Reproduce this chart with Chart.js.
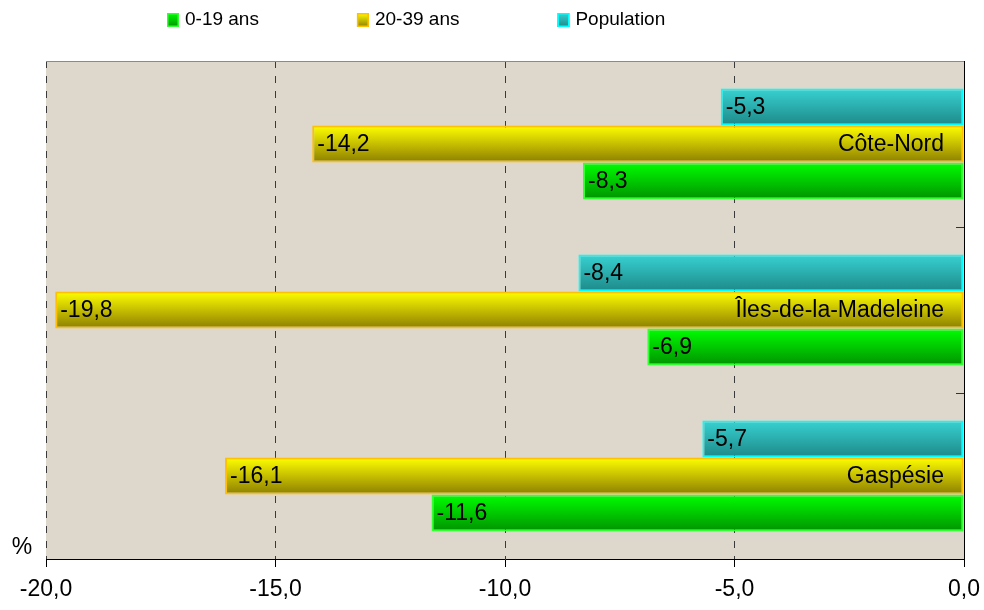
<!DOCTYPE html>
<html><head><meta charset="utf-8">
<script src="https://cdn.jsdelivr.net/npm/chart.js@4/dist/chart.umd.min.js"></script>
<style>html,body{margin:0;padding:0;background:#fff;}#wrap{width:984px;height:610px;position:relative;}</style>
</head><body><div id="wrap"><canvas id="c" width="984" height="610"></canvas></div>
<script>
// ---- data ----
const categories = ['Côte-Nord', 'Îles-de-la-Madeleine', 'Gaspésie'];
const seriesNames = ['Population', '20-39 ans', '0-19 ans'];
const population = [-5.3, -8.4, -5.7];
const age20to39 = [-14.2, -19.8, -16.1];
const age0to19 = [-8.3, -6.9, -11.6];
const xTicks = [-20, -15, -10, -5, 0];
const unitLabel = '%';

// ---- styles ----
const FONT = '"Liberation Sans", Arial, sans-serif';
const styles = [
  {top: '#38d2d2', bottom: '#1e8888', border: '#00ffff'},
  {top: '#ffff00', bottom: '#8c7e00', border: '#ffc000'},
  {top: '#00ff00', bottom: '#009200', border: '#33ff33'}
];
const fmt = v => v.toFixed(1).replace('.', ',').replace('-0,0', '0,0');

const seriesValues = [population, age20to39, age0to19];

const bgPlugin = {
  id: 'bg',
  beforeDraw(chart) {
    const {ctx, chartArea: a} = chart;
    ctx.save();
    ctx.fillStyle = '#ded7cb';
    ctx.fillRect(a.left, a.top, a.right - a.left, a.bottom - a.top);
    ctx.restore();
  }
};

const gradPlugin = {
  id: 'grad',
  beforeDatasetsDraw(chart) {
    const ctx = chart.ctx;
    chart.data.datasets.forEach((ds, i) => {
      const st = styles[i];
      chart.getDatasetMeta(i).data.forEach(el => {
        const t = el.y - el.height / 2, b = el.y + el.height / 2;
        const g = ctx.createLinearGradient(0, t, 0, b);
        g.addColorStop(0, st.top);
        g.addColorStop(1, st.bottom);
        el.options = Object.assign({}, el.options, {backgroundColor: g});
      });
    });
  }
};

const labelPlugin = {
  id: 'labels',
  afterDatasetsDraw(chart) {
    const {ctx, chartArea: a, scales: {x, y}} = chart;
    ctx.save();
    ctx.font = '23px ' + FONT;
    ctx.fillStyle = '#000';
    ctx.textBaseline = 'middle';
    chart.data.datasets.forEach((ds, i) => {
      chart.getDatasetMeta(i).data.forEach((el, j) => {
        const left = Math.min(el.x, el.base);
        ctx.textAlign = 'left';
        ctx.fillText(fmt(ds.data[j]), left + 5, el.y + 1);
        if (i === 1) {
          ctx.textAlign = 'right';
          ctx.fillText(categories[j], x.getPixelForValue(0) - 20, el.y + 1);
        }
      });
    });
    ctx.strokeStyle = '#8a8a8a';
    ctx.lineWidth = 1;
    ctx.beginPath();
    ctx.moveTo(a.left, a.top + 0.5);
    ctx.lineTo(a.right, a.top + 0.5);
    ctx.stroke();
    ctx.strokeStyle = '#333';
    for (let i = 0; i < categories.length - 1; i++) {
      const yp = Math.round((y.getPixelForValue(i) + y.getPixelForValue(i + 1)) / 2) + 0.5;
      ctx.beginPath();
      ctx.moveTo(a.right - 8, yp);
      ctx.lineTo(a.right, yp);
      ctx.stroke();
    }
    ctx.textAlign = 'center';
    ctx.fillText(unitLabel, a.left - 24, a.bottom - 11);
    ctx.restore();
  },
  afterDraw(chart) {
    const ctx = chart.ctx;
    ctx.save();
    ctx.font = '19px ' + FONT;
    ctx.textBaseline = 'middle';
    ctx.textAlign = 'left';
    let xPos = 167;
    const order = [2, 1, 0];
    order.forEach(i => {
      const st = styles[i];
      const g = ctx.createLinearGradient(0, 13, 0, 27);
      g.addColorStop(0, st.top);
      g.addColorStop(1, st.bottom);
      ctx.fillStyle = g;
      ctx.fillRect(xPos, 13, 12, 14);
      ctx.strokeStyle = st.border;
      ctx.lineWidth = 1.5;
      ctx.strokeRect(xPos + 0.75, 13.75, 10.5, 12.5);
      ctx.fillStyle = '#000';
      const label = chart.data.datasets[i].label;
      ctx.fillText(label, xPos + 18, 20);
      xPos += 18 + ctx.measureText(label).width + 98;
    });
    ctx.restore();
  }
};

new Chart(document.getElementById('c'), {
  type: 'bar',
  data: {
    labels: categories,
    datasets: seriesNames.map((name, i) => ({
      label: name,
      data: seriesValues[i],
      backgroundColor: styles[i].top,
      borderColor: styles[i].border,
      borderWidth: 2,
      borderSkipped: false,
      barPercentage: 1,
      categoryPercentage: 0.669
    }))
  },
  options: {
    indexAxis: 'y',
    responsive: false,
    animation: false,
    devicePixelRatio: 1,
    layout: {padding: {left: 46, top: 61, right: 0, bottom: 0}},
    plugins: {legend: {display: false}, tooltip: {enabled: false}},
    scales: {
      x: {
        type: 'linear', position: 'bottom', min: -20, max: 0,
        afterBuildTicks: s => { s.ticks = xTicks.map(v => ({value: v})); },
        ticks: {font: {family: FONT, size: 23}, color: '#000', padding: 9, maxRotation: 0,
                callback: v => fmt(v)},
        grid: {color: '#3a3a3a', lineWidth: 1, tickLength: 8, tickColor: '#000', drawOnChartArea: true},
        border: {display: true, color: '#000', width: 1, dash: [7, 8]},
        afterFit: s => { s.height = 51; s.paddingRight = 0; s.paddingLeft = 0; }
      },
      y: {
        type: 'category', position: 'right', offset: true,
        ticks: {display: false},
        grid: {display: false},
        border: {display: true, color: '#000', width: 1},
        afterFit: s => { s.width = 20; }
      }
    }
  },
  plugins: [bgPlugin, gradPlugin, labelPlugin]
});
</script></body></html>
